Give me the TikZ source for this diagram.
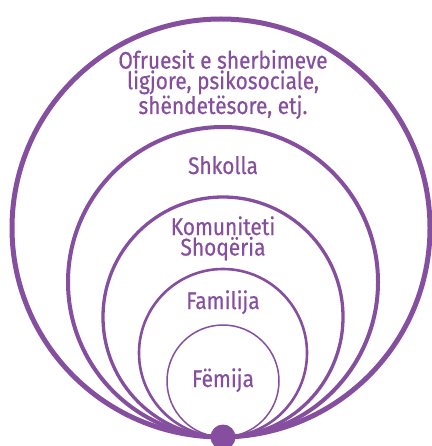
\documentclass[tikz,border=0pt]{standalone}
\usepackage{fontspec}
\setmainfont[FakeStretch=0.87,FakeBold=0.5]{Fira Sans}
\definecolor{ringpurple}{RGB}{134,78,159}
\begin{document}
\begin{tikzpicture}[x=1pt,y=-1pt,
  ring/.style={draw=ringpurple},
  label/.style={text=ringpurple,inner sep=0pt,anchor=base,align=center,
    font=\fontsize{24}{20.5}\selectfont}]
\useasboundingbox (0,0) rectangle (431,446);
% nested circles, all touching at the bottom point
\coordinate (base) at (223,437);
\draw[ring,line width=5pt]   (221,228) circle[radius=209];
\draw[ring,line width=4pt]   (223,282) circle[radius=155];
\draw[ring,line width=3.3pt] (223,317) circle[radius=120];
\draw[ring,line width=2.6pt] (223,353) circle[radius=84];
\draw[ring,line width=1.5pt] (223,381) circle[radius=56];
\fill[ringpurple] (base) circle[radius=12.5];
% labels (base anchor sits on the last line of each block)
\node[label] (services) at (223,114) {Ofruesit e sherbimeve\\ligjore, psikosociale,\\shëndetësore, etj.};
\node[label] (school) at (223,174) {Shkolla};
\node[label] (community) at (223,255.5) {Komuniteti\\Shoqëria};
\node[label] (family) at (223,309) {Familija};
\node[label] (child) at (223,387) {Fëmija};
\end{tikzpicture}
\end{document}
